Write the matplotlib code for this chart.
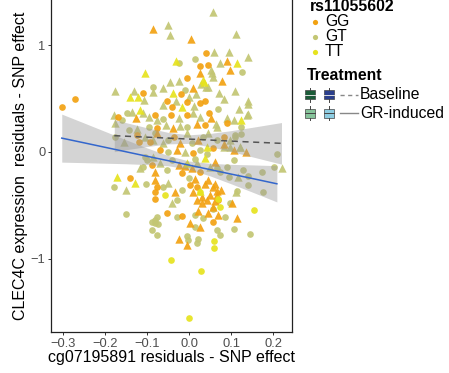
import numpy as np
import matplotlib.pyplot as plt
from matplotlib.patches import Rectangle

plt.rcParams['font.family'] = ['Liberation Sans', 'DejaVu Sans']

# points: circles = GR-induced, triangles = Baseline
gg_gr = [(0.040, 0.925), (0.026, 0.806), (0.044, 0.816), (-0.006, 0.691), (-0.109, 0.550), (-0.020, 0.541),
         (0.038, 0.478), (-0.052, 0.481), (-0.041, 0.425), (-0.006, 0.472), (0.025, 0.456), (-0.303, 0.419),
         (-0.272, 0.500), (-0.168, 0.331), (-0.081, 0.347), (-0.044, 0.347), (-0.006, 0.347), (0.048, 0.363),
         (0.090, 0.269), (0.038, 0.253), (-0.077, 0.222), (-0.123, 0.159), (-0.037, 0.144), (0.082, 0.144),
         (0.058, 0.034), (0.010, -0.013), (-0.069, 0.019), (-0.089, -0.122), (-0.017, -0.200), (0.026, -0.184),
         (-0.140, -0.241), (-0.077, -0.325), (-0.081, -0.372), (-0.081, -0.441), (0.002, -0.309), (0.070, -0.450),
         (-0.053, -0.575), (-0.017, -0.600), (0.058, -0.653), (-0.118, 0.097), (-0.093, 0.097), (0.020, -0.330)]
gg_base = [(-0.087, 1.150), (0.004, 1.059), (0.090, 0.853), (0.026, 0.744), (0.098, 0.769), (0.079, 0.666),
           (0.010, 0.597), (-0.126, 0.316), (0.052, 0.316), (0.018, 0.263), (-0.039, 0.222), (-0.077, 0.175),
           (-0.021, 0.081), (0.022, 0.113), (0.136, 0.0), (0.106, 0.019), (-0.029, 0.019), (-0.081, -0.184),
           (-0.025, -0.122), (0.006, -0.153), (0.062, -0.091), (0.115, -0.622), (-0.081, -0.263), (-0.033, -0.372),
           (0.010, -0.372), (0.018, -0.450), (0.030, -0.481), (0.042, -0.450), (0.058, -0.325), (0.066, -0.403),
           (0.058, -0.513), (0.046, -0.575), (0.002, -0.669), (0.026, -0.700), (0.070, -0.591), (-0.025, -0.819),
           (-0.005, -0.869), (0.082, 0.072), (0.038, -0.303), (0.062, -0.297), (0.066, -0.366), (0.102, -0.475),
           (0.022, -0.553), (-0.010, -0.131), (0.062, -0.459), (0.015, -0.250), (0.045, -0.260), (0.050, -0.400),
           (0.030, -0.420), (0.075, -0.360)]
gt_gr = [(0.015, 0.869), (-0.025, 0.831), (0.126, 0.747), (-0.085, 0.606), (-0.010, 0.581), (-0.148, 0.369),
         (-0.061, 0.313), (0.070, 0.400), (-0.006, 0.238), (-0.095, 0.231), (-0.144, 0.206), (-0.176, 0.144),
         (-0.049, 0.113), (0.006, 0.081), (0.034, 0.144), (0.066, 0.113), (0.110, 0.159), (0.026, 0.019),
         (-0.049, 0.003), (-0.101, -0.075), (-0.109, -0.138), (-0.053, -0.169), (-0.041, -0.075), (0.074, -0.184),
         (0.090, -0.138), (0.106, -0.075), (0.129, -0.169), (0.141, -0.309), (0.173, -0.184), (0.209, -0.019),
         (0.201, -0.138), (0.175, -0.372), (0.145, -0.772), (0.107, -0.725), (0.098, -0.475), (-0.102, -0.300),
         (-0.179, -0.325), (-0.150, -0.584), (-0.061, -0.325), (-0.029, -0.450), (-0.016, -0.356), (0.034, -0.622),
         (-0.029, -0.606), (0.013, -0.591), (0.066, -0.731), (0.086, -0.606), (-0.081, -0.638), (-0.077, -0.606),
         (-0.081, -0.669), (-0.089, -0.731), (-0.077, -0.778), (-0.006, -0.788), (-0.002, -0.825), (0.018, -0.850),
         (0.022, -0.819), (0.014, -0.700), (0.074, -0.775), (0.123, 0.234), (0.110, 0.141), (0.123, 0.166),
         (0.140, -0.228), (0.114, -0.366), (0.096, -0.231), (0.066, -0.153), (0.042, -0.022), (0.014, -0.069),
         (0.058, -0.537), (-0.089, -0.656), (-0.075, -0.672), (-0.160, 0.300), (-0.081, 0.181), (-0.105, -0.044),
         (0.000, -0.240)]
gt_base = [(0.056, 1.316), (-0.049, 1.188), (-0.045, 1.097), (0.112, 1.106), (0.060, 0.941), (0.096, 0.941),
           (0.140, 0.888), (0.073, 0.831), (0.052, 0.769), (0.055, 0.738), (0.058, 0.706), (-0.023, 0.666),
           (-0.045, 0.659), (0.029, 0.638), (0.040, 0.613), (0.046, 0.613), (-0.061, 0.597), (-0.176, 0.575),
           (-0.130, 0.575), (-0.085, 0.566), (-0.107, 0.488), (0.001, 0.519), (0.017, 0.544), (0.071, 0.550),
           (0.110, 0.575), (0.083, 0.494), (0.140, 0.478), (-0.061, 0.441), (-0.032, 0.478), (0.012, 0.431),
           (-0.179, 0.347), (-0.137, 0.378), (-0.109, 0.363), (-0.095, 0.325), (-0.077, 0.300), (-0.025, 0.316),
           (0.009, 0.363), (0.026, 0.331), (0.118, 0.400), (0.141, 0.450), (0.137, 0.347), (0.107, 0.300),
           (0.066, 0.238), (-0.021, 0.244), (-0.055, 0.250), (-0.104, 0.144), (-0.156, 0.097), (-0.176, 0.269),
           (-0.085, 0.113), (-0.061, 0.081), (-0.006, 0.175), (0.046, 0.175), (0.098, 0.113), (0.121, 0.050),
           (0.082, 0.050), (-0.010, 0.003), (-0.085, -0.044), (-0.117, -0.153), (-0.069, -0.106), (0.018, -0.106),
           (0.050, -0.138), (0.117, -0.231), (0.221, -0.147), (0.112, -0.372), (-0.150, -0.356), (-0.049, -0.294),
           (-0.041, -0.481), (0.090, 0.316), (0.140, 0.353), (0.064, 0.265), (0.098, 0.047), (0.121, 0.047),
           (-0.125, 0.213)]
tt_gr = [(0.155, -0.544), (-0.057, -0.403), (0.025, -0.372), (0.074, -0.513), (0.060, -0.831), (0.060, -0.903),
         (-0.043, -1.013), (0.029, -1.116), (0.000, -1.553), (0.070, -0.444)]
tt_base = [(-0.031, 0.856), (0.113, 0.831), (-0.105, 0.744), (0.033, 0.675), (0.035, 0.659), (-0.140, 0.519),
           (-0.122, 0.519), (-0.039, 0.556), (-0.017, 0.425), (-0.117, 0.394), (0.042, 0.050), (-0.006, -0.106),
           (0.038, -0.059), (-0.172, -0.231), (-0.129, -0.294), (0.123, 0.297), (0.026, -0.366)]

# fitted lines with confidence bands
gr_fit_x = [-0.303, -0.25, -0.2, -0.15, -0.1, -0.05, 0.0, 0.05, 0.1, 0.15, 0.209]
gr_fit_y = [0.130, 0.086, 0.044, 0.002, -0.040, -0.081, -0.123, -0.165, -0.207, -0.248, -0.298]
gr_lo = [-0.095, -0.100, -0.105, -0.110, -0.118, -0.129, -0.161, -0.224, -0.298, -0.375, -0.468]
gr_hi = [0.355, 0.272, 0.193, 0.114, 0.038, -0.033, -0.085, -0.106, -0.116, -0.121, -0.128]
base_fit_x = [-0.178, -0.15, -0.1, -0.05, 0.0, 0.05, 0.1, 0.15, 0.22]
base_fit_y = [0.153, 0.148, 0.139, 0.130, 0.121, 0.112, 0.102, 0.093, 0.081]
base_lo = [0.003, 0.021, 0.051, 0.076, 0.081, 0.050, 0.004, -0.045, -0.114]
base_hi = [0.303, 0.275, 0.227, 0.184, 0.161, 0.174, 0.200, 0.231, 0.276]

genotypes = ['GG', 'GT', 'TT']
geno_colors = {'GG': '#F2A212', 'GT': '#C3C673', 'TT': '#E6E31E'}
treat_labels = ['Baseline', 'GR-induced']

fig = plt.figure(figsize=(4.49, 3.73), dpi=100)
ax = fig.add_axes([51 / 449, 41 / 373, 241 / 449, 332 / 373])

groups = [('GT', gt_base, gt_gr), ('GG', gg_base, gg_gr), ('TT', tt_base, tt_gr)]
for g, base, gr in groups:
    bx, by = zip(*base)
    cx, cy = zip(*gr)
    ax.scatter(bx, by, marker='^', s=36, color=geno_colors[g], alpha=0.92, linewidths=0, zorder=2)
    ax.scatter(cx, cy, marker='o', s=23, color=geno_colors[g], alpha=0.92, linewidths=0, zorder=2)

ax.fill_between(gr_fit_x, gr_lo, gr_hi, color='#999999', alpha=0.42, linewidth=0, zorder=3)
ax.fill_between(base_fit_x, base_lo, base_hi, color='#999999', alpha=0.42, linewidth=0, zorder=3)
ax.plot(gr_fit_x, gr_fit_y, color='#3366CC', lw=1.1, zorder=4)
ax.plot(base_fit_x, base_fit_y, color='#555555', lw=1.1, ls=(0, (4, 3)), zorder=4)

ax.set_xlim(-0.3286, 0.245)
ax.set_ylim(-1.687, 1.4245)
ax.set_xticks([-0.3, -0.2, -0.1, 0.0, 0.1, 0.2])
ax.set_xticklabels(['\u22120.3', '\u22120.2', '\u22120.1', '0.0', '0.1', '0.2'])
ax.set_yticks([-1, 0, 1])
ax.set_yticklabels(['\u22121', '0', '1'])
ax.tick_params(length=2.5, width=0.7, color='#333333', labelcolor='#4D4D4D', labelsize=9.3, pad=1.5)
for side in ['left', 'bottom', 'right']:
    ax.spines[side].set_color('#222222')
    ax.spines[side].set_linewidth(0.9)
ax.spines['top'].set_visible(False)
ax.set_xlabel('cg07195891 residuals - SNP effect', fontsize=11.5, labelpad=0)
ax.set_ylabel('CLEC4C expression  residuals - SNP effect', fontsize=11.5, labelpad=2)

# legend drawn in pixel space
lg = fig.add_axes([0, 0, 1, 1])
lg.set_xlim(0, 449)
lg.set_ylim(373, 0)
lg.axis('off')
lg.patch.set_alpha(0)

lg.text(310, 6.5, 'rs11055602', fontsize=11.3, fontweight='bold', va='center', ha='left')
for i, g in enumerate(genotypes):
    yy = 21.5 + i * 15
    lg.scatter([315], [yy], s=14, color=geno_colors[g], linewidths=0)
    lg.text(325, yy, g, fontsize=11.3, va='center', ha='left')

lg.text(307, 76, 'Treatment', fontsize=11.3, fontweight='bold', va='center', ha='left')
box_colors = [('#1B5B38', '#2B3F8C'), ('#86C39A', '#8ECDE2')]
line_styles = [(0, (3, 2.5)), '-']
for i, t in enumerate(treat_labels):
    yy = 94.5 + i * 18.5
    for j, bx in enumerate([305, 324]):
        fc = box_colors[i][j]
        lg.add_patch(Rectangle((bx, yy - 4.5), 10, 9, facecolor=fc, edgecolor='#444444', lw=0.5))
        lg.plot([bx, bx + 10], [yy, yy], color='#DDDDDD' if i == 0 else '#444444', lw=0.7)
        lg.plot([bx + 5, bx + 5], [yy - 7, yy - 4.5], color='#444444', lw=0.7)
        lg.plot([bx + 5, bx + 5], [yy + 4.5, yy + 7], color='#444444', lw=0.7)
    lg.plot([340, 358], [yy, yy], color='#888888', lw=1.0, ls=line_styles[i])
    lg.text(360, yy, t, fontsize=11.3, va='center', ha='left')

fig.savefig('out.png', dpi=100)
